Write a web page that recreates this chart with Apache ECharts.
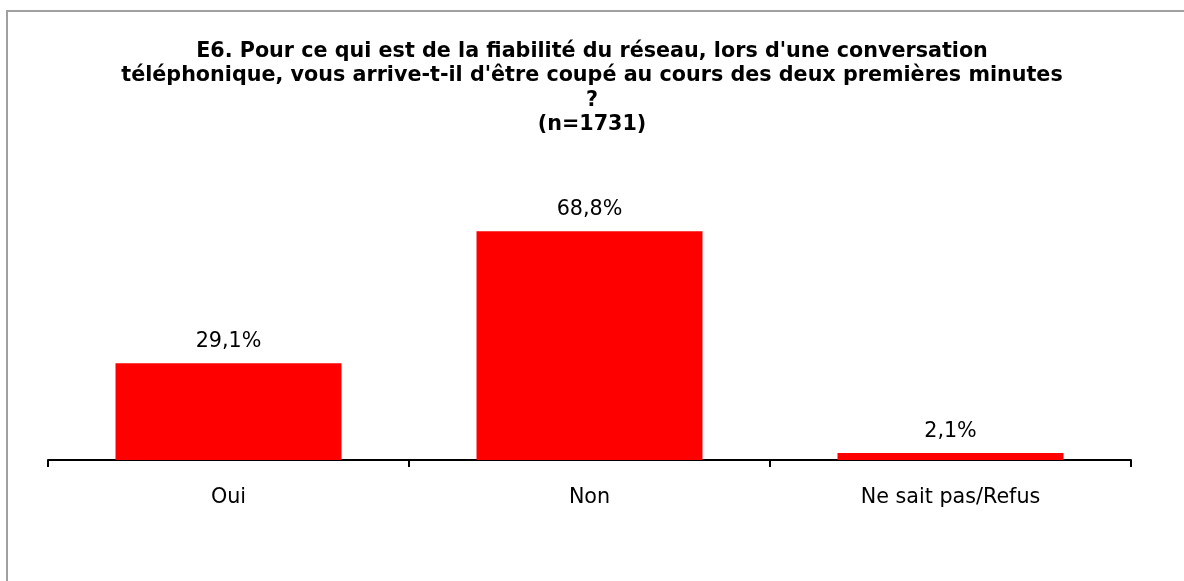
<!DOCTYPE html>
<html>
<head>
<meta charset="utf-8">
<script src="https://cdn.jsdelivr.net/npm/echarts@6/dist/echarts.min.js"></script>
<style>
  html, body { margin: 0; padding: 0; background: #fff; }
  #chart { width: 1184px; height: 581px; }
</style>
</head>
<body>
<div id="chart"></div>
<script>
(function () {
    var categories = ['Oui', 'Non', 'Ne sait pas/Refus'];
    var values = [29.1, 68.8, 2.1];
    var titleLines = [
        'E6. Pour ce qui est de la fiabilité du réseau, lors d\'une conversation',
        'téléphonique, vous arrive-t-il d\'être coupé au cours des deux premières minutes',
        '?',
        '(n=1731)'
    ];

    var myChart = echarts.init(document.getElementById('chart'));

    var option = {
        backgroundColor: '#fff',
        animation: false,
        title: {
            text: titleLines.join('\n'),
            left: 'center',
            top: 34,
            textStyle: {
                fontFamily: 'DejaVu Sans',
                fontWeight: 'bold',
                fontSize: 20.7,
                lineHeight: 24.5,
                color: '#000'
            }
        },
        graphic: [
            {
                type: 'rect',
                shape: { x: 7, y: 11, width: 1200, height: 600 },
                style: { fill: 'none', stroke: '#a0a0a0', lineWidth: 2 }
            }
        ],
        grid: {
            left: 48,
            right: 53,
            top: 194,
            bottom: 121
        },
        xAxis: {
            type: 'category',
            data: categories,
            axisLine: { lineStyle: { color: '#000', width: 2 } },
            axisTick: { show: true, length: 7, lineStyle: { color: '#000', width: 2 } },
            axisLabel: {
                margin: 27,
                fontFamily: 'DejaVu Sans',
                fontSize: 20.7,
                color: '#000'
            }
        },
        yAxis: {
            type: 'value',
            min: 0,
            max: 80,
            show: false
        },
        series: [
            {
                type: 'bar',
                data: values,
                barWidth: '62.6%',
                itemStyle: { color: '#ff0000' },
                label: {
                    show: true,
                    position: 'top',
                    distance: 11,
                    fontFamily: 'DejaVu Sans',
                    fontSize: 20.7,
                    color: '#000',
                    formatter: function (p) {
                        return p.value.toFixed(1).replace('.', ',') + '%';
                    }
                }
            }
        ]
    };

    myChart.setOption(option);
})();
</script>
</body>
</html>
